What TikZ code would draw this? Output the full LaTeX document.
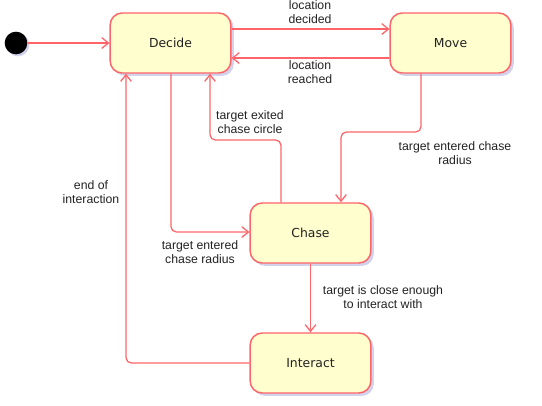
\documentclass[tikz,border=0pt]{standalone}
\usepackage{fontspec}
\setmainfont{Liberation Sans}
\newfontfamily\boxfont{DejaVu Sans}
\usetikzlibrary{arrows.meta,shadows}
\definecolor{edgered}{HTML}{FF6468}
\definecolor{boxfill}{HTML}{FEFECE}
\definecolor{txt}{HTML}{222222}
\begin{document}
\begin{tikzpicture}[x=0.75pt,y=-0.75pt,
  state/.style={draw=edgered, line width=1.1pt, fill=boxfill, rounded corners=9pt,
    minimum width=90.5pt, minimum height=45pt, inner sep=0pt,
    font=\boxfont\fontsize{9.3}{11}\selectfont, text=txt,
    drop shadow={shadow xshift=2.2pt, shadow yshift=-2.2pt, opacity=0.25, fill=blue!40!gray}},
  lbl/.style={align=center, font=\fontsize{9.2}{10.5}\selectfont, text=txt, inner sep=0pt},
  arr/.style={draw=edgered, line width=0.95pt, rounded corners=4pt,
    -{Straight Barb[length=5pt,width=8pt]}}
]
\useasboundingbox (0,0) rectangle (542,405);
\node[circle, fill=black, minimum size=17pt, inner sep=0pt,
  drop shadow={shadow xshift=1.5pt, shadow yshift=-1.5pt, opacity=0.25, fill=blue!40!gray}] (init) at (16,43) {};
\node[state] (decide) at (170.5,43) {Decide};
\node[state] (move) at (450.5,43) {Move};
\node[state] (chase) at (310.5,233) {Chase};
\node[state] (interact) at (310.5,363) {Interact};

\draw[arr] (init) -- (decide);
\coordinate (dm) at (0,29);
\coordinate (md) at (0,58);
\draw[arr] (decide.east |- dm) -- (move.west |- dm);
\draw[arr] (move.west |- md) -- (decide.east |- md);
\node[lbl] (l1) at (310,12) {location\\decided};
\node[lbl] (l2) at (310,72) {location\\reached};

\coordinate (mc1) at (421,132);
\coordinate (mc2) at (341,132);
\draw[arr] (move.south -| mc1) -- (mc1) -- (mc2) -- (chase.north -| mc2);
\node[lbl] (l3) at (455,153) {target entered chase\\radius};

\coordinate (cd1) at (281,140);
\coordinate (cd2) at (210,140);
\draw[arr] (chase.north -| cd1) -- (cd1) -- (cd2) -- (decide.south -| cd2);
\node[lbl] (l4) at (250,122) {target exited\\chase circle};

\coordinate (dc1) at (171,232);
\draw[arr] (decide.south -| dc1) -- (dc1) -- (chase.west |- dc1);
\node[lbl] (l5) at (200,252) {target entered\\chase radius};

\draw[arr] (chase) -- (interact);
\node[lbl] (l6) at (383,297) {target is close enough\\to interact with};

\coordinate (id1) at (126,363);
\draw[arr] (interact.west) -- (id1) -- (decide.south -| id1);
\node[lbl] (l7) at (91,192) {end of\\interaction};
\end{tikzpicture}
\end{document}
